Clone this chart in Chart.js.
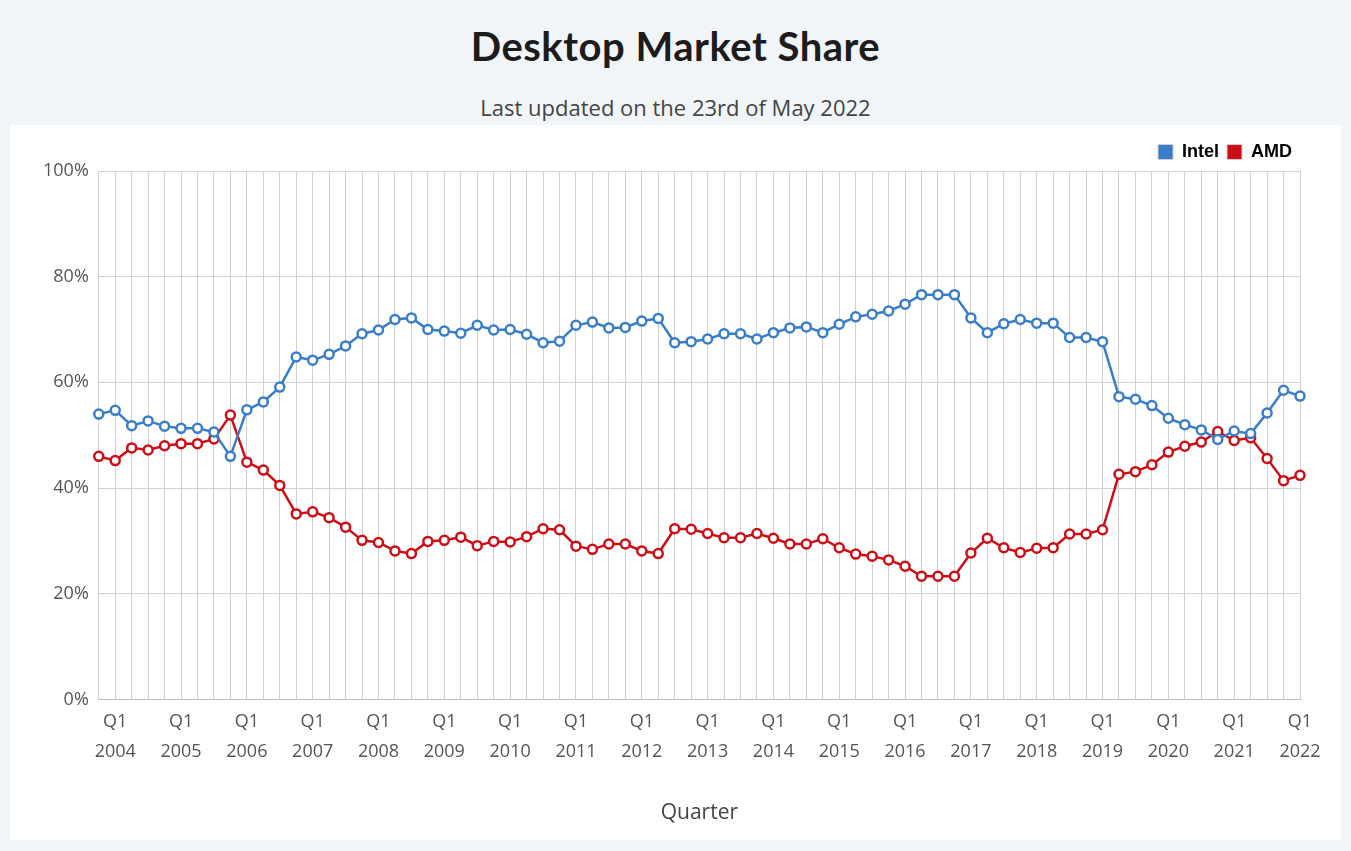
<!DOCTYPE html>
<html>
<head>
<meta charset="utf-8">
<script src="https://cdn.jsdelivr.net/npm/chart.js@4"></script>
<style>
  body { margin: 0; background: #f1f5f8; font-family: "Open Sans", sans-serif; }
  h1 { margin: 0; position: absolute; top: 22px; width: 100%; text-align: center; font: bold 40px Lato, sans-serif; color: #1c1c1c; letter-spacing: 0.5px; }
  .sub { position: absolute; top: 92px; width: 100%; text-align: center; font-size: 22px; color: #444; }
  .panel { position: absolute; left: 10px; top: 125px; width: 1331px; height: 715px; background: #fff; }
</style>
</head>
<body>
<h1>Desktop Market Share</h1>
<div class="sub">Last updated on the 23rd of May 2022</div>
<div class="panel"><canvas id="myChart"></canvas></div>
<script>
const intel = [54.0, 54.7, 51.8, 52.7, 51.7, 51.3, 51.3, 50.6, 46.0, 54.8, 56.3, 59.1, 64.8, 64.2, 65.3, 66.9, 69.2, 69.9, 71.9, 72.2,
  70.0, 69.7, 69.3, 70.8, 69.9, 70.0, 69.1, 67.5, 67.8, 70.8, 71.4, 70.3, 70.4, 71.6, 72.1, 67.5, 67.7, 68.2, 69.2, 69.2,
  68.2, 69.4, 70.3, 70.5, 69.4, 71.0, 72.4, 72.9, 73.5, 74.8, 76.6, 76.6, 76.6, 72.2, 69.4, 71.1, 71.9, 71.2, 71.2, 68.5,
  68.5, 67.7, 57.3, 56.8, 55.6, 53.2, 52.0, 51.0, 49.2, 50.8, 50.3, 54.2, 58.5, 57.4];
const amd = [46.0, 45.2, 47.6, 47.2, 48.0, 48.4, 48.4, 49.3, 53.8, 44.9, 43.4, 40.5, 35.1, 35.5, 34.4, 32.6, 30.1, 29.7, 28.1, 27.6,
  29.9, 30.1, 30.7, 29.1, 29.9, 29.8, 30.8, 32.3, 32.1, 29.0, 28.4, 29.4, 29.4, 28.1, 27.6, 32.3, 32.2, 31.4, 30.6, 30.6,
  31.4, 30.5, 29.4, 29.4, 30.4, 28.7, 27.5, 27.1, 26.4, 25.2, 23.3, 23.3, 23.3, 27.7, 30.5, 28.7, 27.8, 28.6, 28.7, 31.3,
  31.3, 32.1, 42.6, 43.1, 44.4, 46.8, 47.9, 48.7, 50.7, 49.0, 49.5, 45.6, 41.4, 42.4];
const quarters = [];
for (let i = 0; i < intel.length; i++) {
  const q = (i + 3) % 4 + 1;
  const y = 2003 + Math.floor((i + 3) / 4);
  quarters.push('Q' + q + ' ' + y);
}
const yTicks = [0, 20, 40, 60, 80, 100];

function series(label, data, color) {
  return {
    label: label, data: data, borderColor: color, backgroundColor: color,
    borderWidth: 2.5, pointRadius: 4.5, pointBorderWidth: 2.5,
    pointBackgroundColor: '#fff', pointBorderColor: color, tension: 0
  };
}

new Chart(document.getElementById('myChart'), {
  type: 'line',
  data: {
    labels: quarters,
    datasets: [series('Intel', intel, '#3a7dc9'), series('AMD', amd, '#cc0f16')]
  },
  options: {
    responsive: true, maintainAspectRatio: false, animation: false,
    layout: { padding: { left: 23, right: 41, top: 10, bottom: 10 } },
    plugins: {
      tooltip: { enabled: false },
      legend: {
        position: 'top', align: 'end',
        labels: {
          boxWidth: 15, boxHeight: 15, padding: 8, color: '#555',
          font: { family: 'Liberation Sans', size: 18, weight: 'bold' },
          generateLabels: (chart) => chart.data.datasets.map((d, i) => ({
            text: d.label, fillStyle: d.borderColor, strokeStyle: '#ccc', lineWidth: 1, datasetIndex: i
          }))
        }
      }
    },
    scales: {
      x: {
        grid: { color: '#d0d0d0', drawTicks: false },
        border: { color: '#bbb' },
        title: { display: true, text: 'Quarter', color: '#444', font: { family: 'Open Sans', size: 21 }, padding: { top: 26 } },
        ticks: {
          autoSkip: false, maxRotation: 0, color: '#555', padding: 8,
          font: { family: 'Open Sans', size: 18, lineHeight: 1.65 },
          callback: function (v, i) {
            const l = quarters[i];
            return l.startsWith('Q1') ? l.split(' ') : '';
          }
        }
      },
      y: {
        min: 0, max: 100,
        afterBuildTicks: (ax) => { ax.ticks = yTicks.map(v => ({ value: v })); },
        grid: { color: '#d0d0d0', drawTicks: false },
        border: { display: false },
        ticks: { color: '#555', padding: 10, font: { family: 'Open Sans', size: 18 }, callback: v => v + '%' }
      }
    }
  }
});
</script>
</body>
</html>
